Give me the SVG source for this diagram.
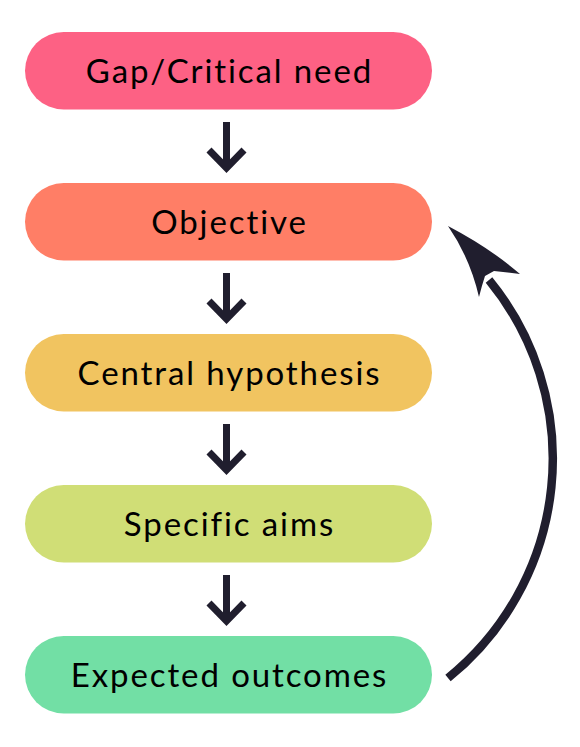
<svg xmlns="http://www.w3.org/2000/svg" width="580" height="747" viewBox="0 0 580 747">
<style>
.pill{stroke:none}
.lbl{font-family:Lato,"Noto Sans",sans-serif;font-size:33px;fill:#000;text-anchor:middle;letter-spacing:1.9px;font-variant-ligatures:none}
.arr{fill:none;stroke:#201e2e;stroke-width:7}
</style>
<rect width="580" height="747" fill="#fff"/>
<g id="node-gap"><rect class="pill" x="25" y="32" width="407" height="77.5" rx="38.75" fill="#fd6184"/><text class="lbl" x="229.5" y="82.5">Gap/Critical need</text></g>
<g id="node-objective"><rect class="pill" x="25" y="183" width="407" height="77.5" rx="38.75" fill="#ff7e66"/><text class="lbl" x="229.5" y="233.5">Objective</text></g>
<g id="node-central"><rect class="pill" x="25" y="334" width="407" height="77.5" rx="38.75" fill="#f1c460"/><text class="lbl" x="229.5" y="384.5">Central hypothesis</text></g>
<g id="node-specific"><rect class="pill" x="25" y="485" width="407" height="77.5" rx="38.75" fill="#d0de76"/><text class="lbl" x="229.5" y="535.5">Specific aims</text></g>
<g id="node-expected"><rect class="pill" x="25" y="636" width="407" height="77.5" rx="38.75" fill="#72dfa5"/><text class="lbl" x="229.5" y="686.5">Expected outcomes</text></g>
<g id="connectors">
<g class="arr">
<path d="M226.5,122 V168 M209,150 L226.5,168 L244,150"/>
<path d="M226.5,273 V319 M209,301 L226.5,319 L244,301"/>
<path d="M226.5,424 V470 M209,452 L226.5,470 L244,452"/>
<path d="M226.5,575 V621 M209,603 L226.5,621 L244,603"/>
<path d="M448,678 A282,282 0 0 0 489,280" stroke-width="8.5"/>
</g>
<path d="M448,226 Q490,248 520,274 L494,271 L485,276 Q482,285 479,297 Q470,258 448,226 Z" fill="#201e2e"/>
</g>
</svg>
